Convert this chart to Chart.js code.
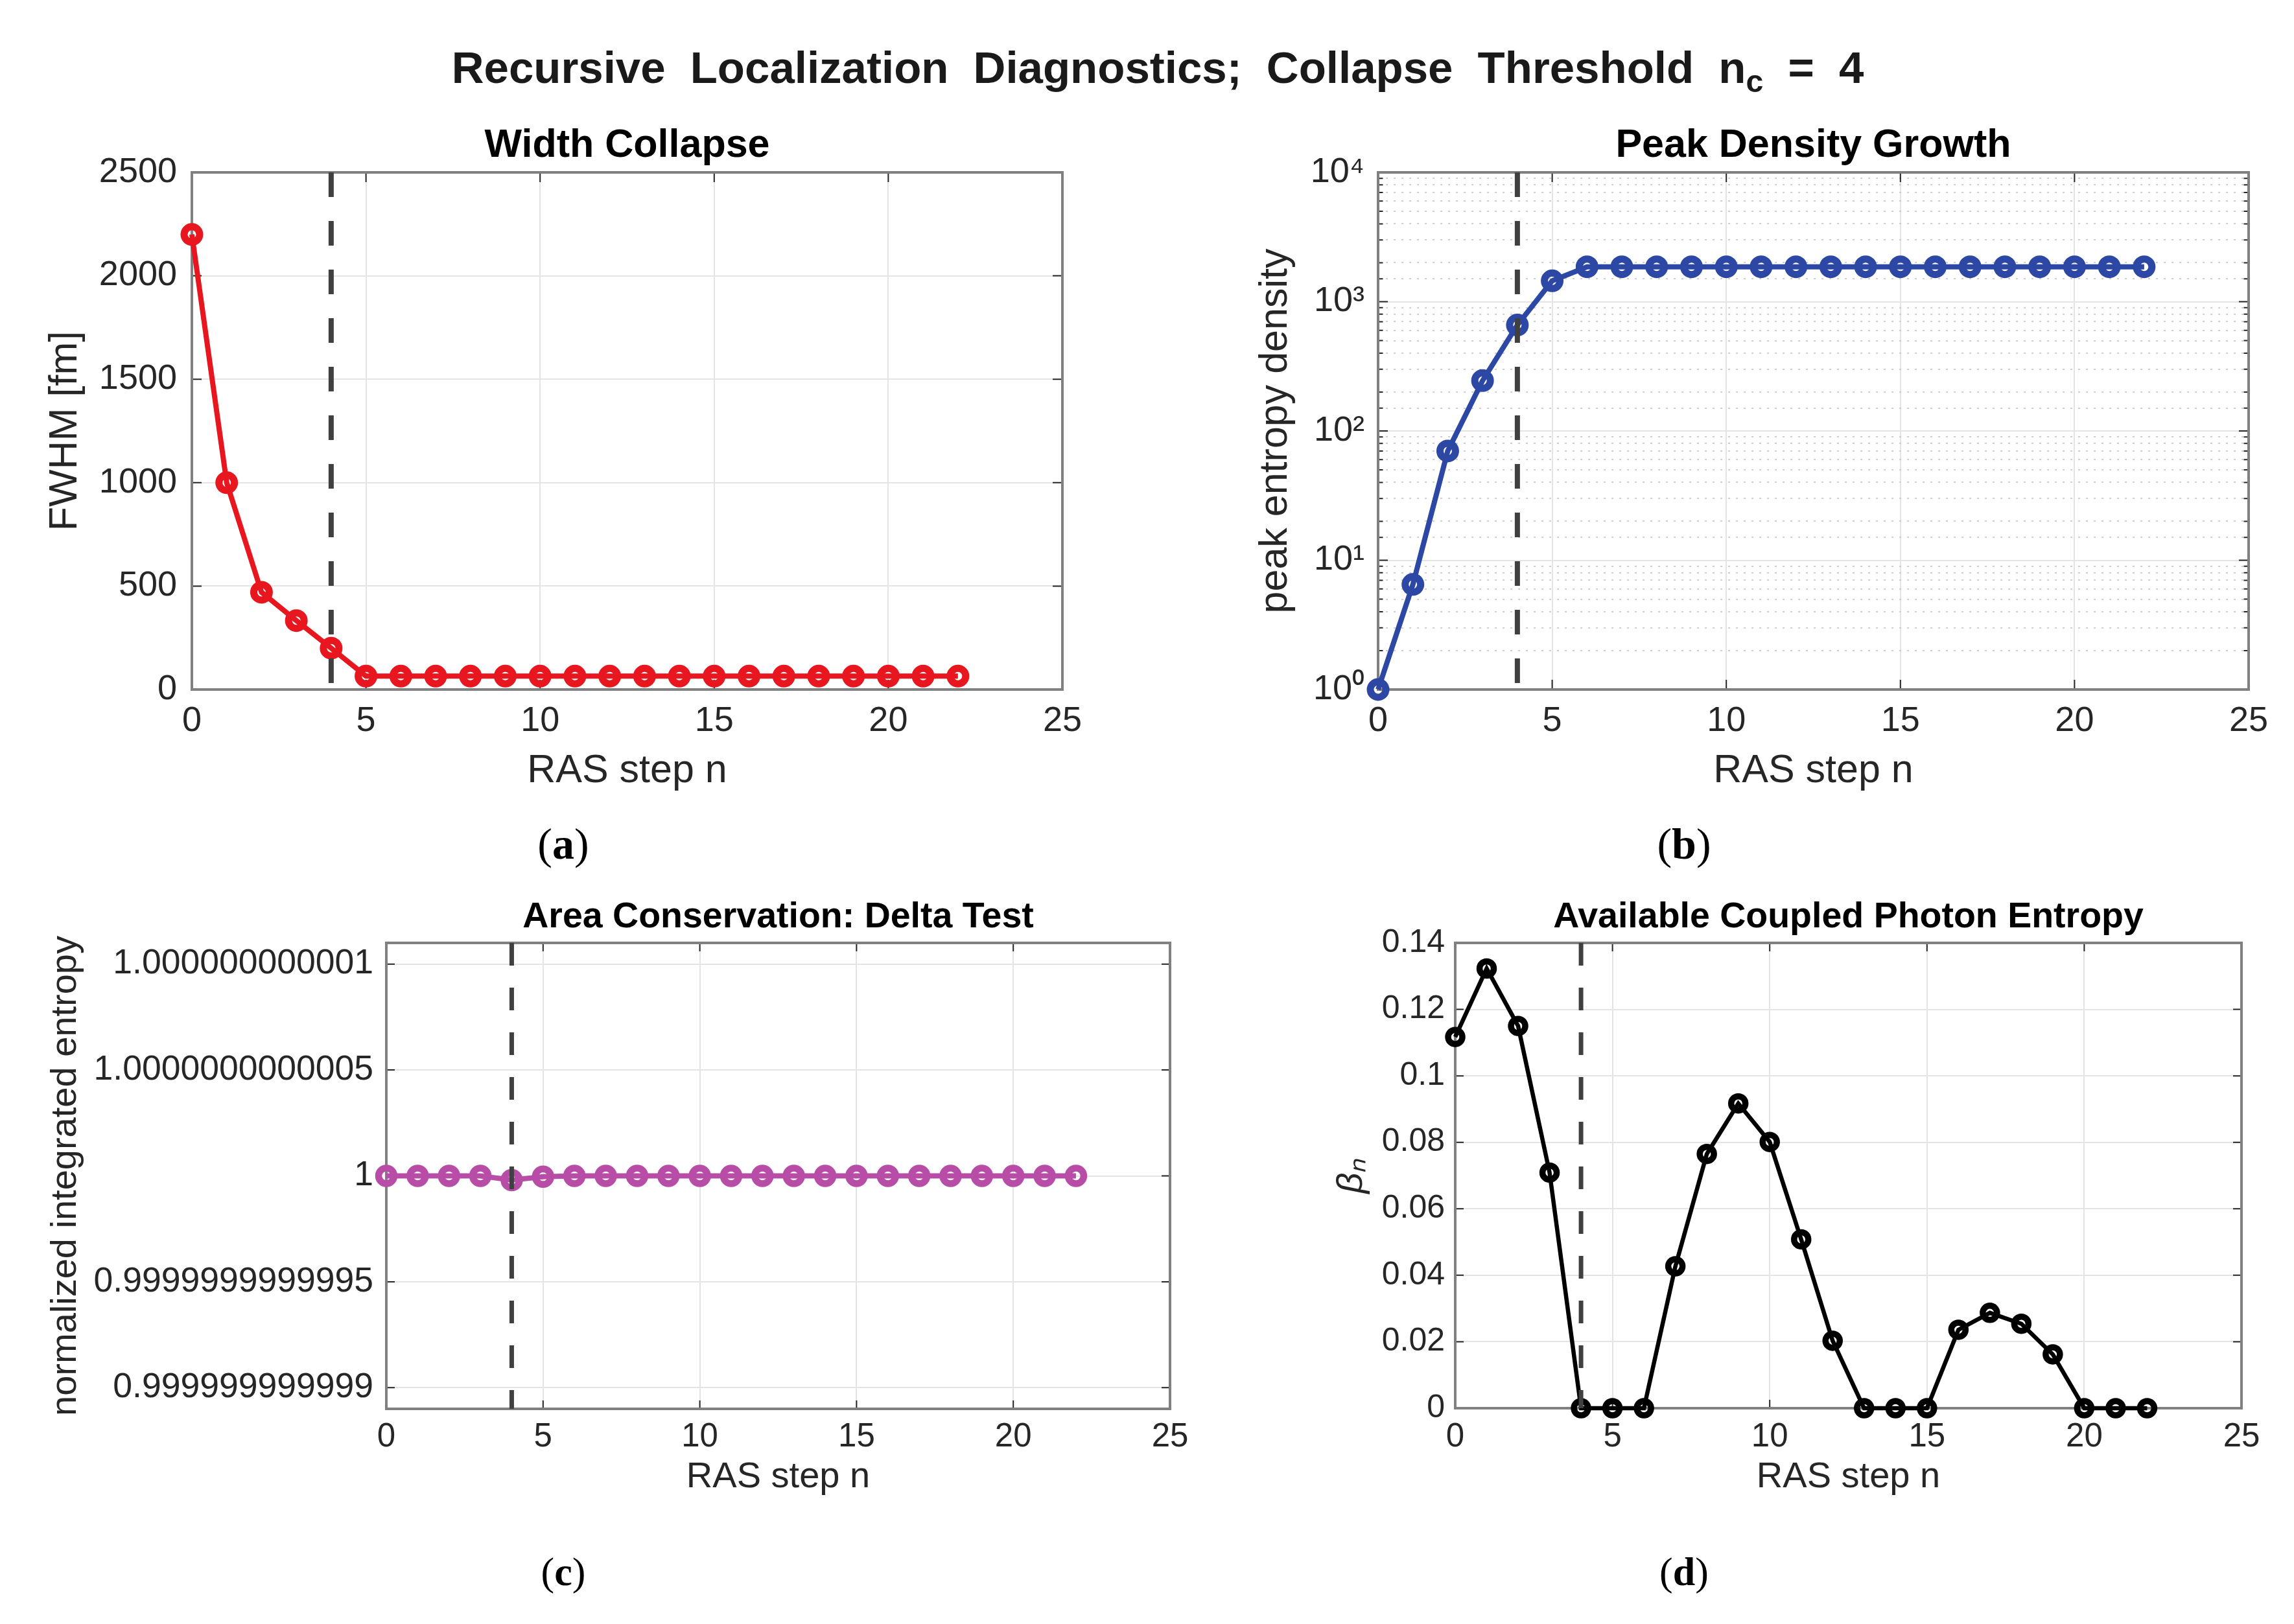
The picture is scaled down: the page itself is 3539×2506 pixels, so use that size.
<!DOCTYPE html>
<html>
<head>
<meta charset="utf-8">
<script src="https://cdn.jsdelivr.net/npm/chart.js@4.4.1/dist/chart.umd.min.js"></script>
<style>
html,body{margin:0;padding:0;background:#fff;}
body{width:3539px;height:2506px;position:relative;overflow:hidden;font-family:"Liberation Sans",Arial,Helvetica,sans-serif;}
canvas{position:absolute;}
#suptitle{position:absolute;top:66px;left:1786px;transform:translateX(-50%);white-space:nowrap;font-weight:bold;font-size:69px;line-height:77px;color:#1a1a1a;word-spacing:19px;}
#suptitle sub{font-size:0.7em;line-height:0;vertical-align:-0.3em;}
.lab{position:absolute;font-family:"Liberation Serif","Times New Roman",serif;white-space:nowrap;transform:translateX(-50%);color:#000;line-height:1.107;}
</style>
</head>
<body>
<div id="suptitle">Recursive Localization Diagnostics; Collapse Threshold n<sub>c</sub> = 4</div>
<div class="lab" style="left:869px;top:1265px;font-size:68px;">(<b>a</b>)</div>
<div class="lab" style="left:2598px;top:1265px;font-size:68px;">(<b>b</b>)</div>
<div class="lab" style="left:869px;top:2391px;font-size:62px;">(<b>c</b>)</div>
<div class="lab" style="left:2598px;top:2391px;font-size:62px;">(<b>d</b>)</div>

<script>
// ---------------- data ----------------
const steps = [0,1,2,3,4,5,6,7,8,9,10,11,12,13,14,15,16,17,18,19,20,21,22];
const collapseThreshold = 4;

const fwhm = [2200,1000,470,333,200,65,65,65,65,65,65,65,65,65,65,65,65,65,65,65,65,65,65];
const peakDensity = [1,6.5,70,245,660,1450,1860,1860,1860,1860,1860,1860,1860,1860,1860,1860,1860,1860,1860,1860,1860,1860,1860];
const areaNorm = [1,1,1,1,0.99999999999998,0.999999999999996,1,1,1,1,1,1,1,1,1,1,1,1,1,1,1,1,1];
const beta = [0.1117,0.1323,0.1150,0.0709,0,0,0,0.0427,0.0765,0.0917,0.0801,0.0508,0.0203,0,0,0,0.0236,0.0287,0.0254,0.0162,0,0,0];

const xTicks = [0,5,10,15,20,25];
const fwhmTicks = [0,500,1000,1500,2000,2500];
const peakDecades = [1,10,100,1000,10000];
const peakTickLabels = ['10\u2070','10\u00B9','10\u00B2','10\u00B3','10\u2074'];
const areaTicks = [0.999999999999,0.9999999999995,1,1.0000000000005,1.000000000001];
const areaTickLabels = ['0.999999999999','0.9999999999995','1','1.0000000000005','1.000000000001'];
const betaTicks = [0,0.02,0.04,0.06,0.08,0.1,0.12,0.14];
const betaTickLabels = ['0','0.02','0.04','0.06','0.08','0.1','0.12','0.14'];

const xRange = [0,25];
const fwhmRange = [0,2500];
const peakRange = [1,10000];
const areaRange = [0.9999999999989,1.0000000000011];
const betaRange = [0,0.14];

// ---------------- style ----------------
const FONT = '"Liberation Sans", Arial, Helvetica, sans-serif';
Chart.defaults.font.family = FONT;
Chart.defaults.color = '#262626';
const GRID = '#e4e4e4';
const MINOR_GRID = '#cfcfcf';
const RED = '#e8161e', BLUE = '#2d47a5', MAGENTA = '#b84da8', BLACK = '#000000';
const DASH_COLOR = '#404040';

const matlabAxes = {
  id: 'matlabAxes',
  beforeDatasetsDraw(chart, args, o) {
    const {ctx, chartArea: a} = chart;
    const xs = chart.scales.x, ys = chart.scales.y;
    ctx.save();
    ctx.strokeStyle = o.tickColor; ctx.lineWidth = o.tickWidth;
    ctx.beginPath();
    xs.ticks.forEach(t => {
      const p = xs.getPixelForValue(t.value);
      ctx.moveTo(p, a.bottom); ctx.lineTo(p, a.bottom - o.len);
      ctx.moveTo(p, a.top); ctx.lineTo(p, a.top + o.len);
    });
    ys.ticks.forEach(t => {
      const p = ys.getPixelForValue(t.value);
      let L = o.len;
      if (o.log) {
        const e = Math.log10(t.value);
        if (Math.abs(e - Math.round(e)) > 1e-9) L = o.minorLen;
      }
      ctx.moveTo(a.left, p); ctx.lineTo(a.left + L, p);
      ctx.moveTo(a.right, p); ctx.lineTo(a.right - L, p);
    });
    ctx.stroke();
    ctx.strokeStyle = o.boxColor; ctx.lineWidth = o.boxWidth;
    ctx.strokeRect(a.left, a.top, a.right - a.left, a.bottom - a.top);
    ctx.restore();
  }
};

function threshold(range, width, dash) {
  return {
    data: [{x: collapseThreshold, y: range[1]}, {x: collapseThreshold, y: range[0]}],
    borderColor: DASH_COLOR, borderWidth: width, borderDash: dash,
    pointRadius: 0, tension: 0, fill: false, clip: false
  };
}
function series(values, color, lw, r, pbw) {
  return {
    data: steps.map((n, i) => ({x: n, y: values[i]})),
    borderColor: color, borderWidth: lw, tension: 0, fill: false, clip: false,
    pointRadius: r, pointBorderWidth: pbw, pointBorderColor: color,
    pointBackgroundColor: 'rgba(0,0,0,0)', pointStyle: 'circle'
  };
}

function build(g, datasets, yExtra, extraScales) {
  const cv = document.createElement('canvas');
  cv.width = g.w; cv.height = g.h;
  cv.style.left = g.x + 'px'; cv.style.top = g.y + 'px';
  cv.style.width = g.w + 'px'; cv.style.height = g.h + 'px';
  document.body.appendChild(cv);
  const K = 0.3465;
  const lhT = g.titleSize * 1.2, lhL = g.labelSize * 1.2, lhK = g.tickSize * 1.2;
  const titleMid = g.titleBase - K * g.titleSize;
  const padTop = titleMid - lhT / 2 - g.y;
  const titlePadBottom = g.t - g.y - padTop - lhT;
  const xTitleMid = g.xLabelBase - K * g.labelSize;
  const xTitlePadBottom = g.y + g.h - xTitleMid - lhL / 2;
  const xTickMid = g.xTickBase - K * g.tickSize;
  const xTickPad = xTickMid - g.b - lhK / 2;
  const yTitlePadTop = g.yLabelX - g.x - lhL / 2;
  const yTickSize = g.yTickSize || g.tickSize;

  const yScale = Object.assign({
    position: 'left',
    grid: {color: GRID, lineWidth: 2, drawTicks: false},
    border: {display: false},
    title: {display: true, text: g.yLabel, color: '#262626',
            font: {size: g.labelSize, style: g.yLabelStyle || 'normal'},
            padding: {top: yTitlePadTop, bottom: 0}},
    afterFit: s => { s.width = g.l - g.x; }
  }, yExtra);
  yScale.ticks = Object.assign({autoSkip: false, font: {size: yTickSize}, padding: g.yTickPad, color: '#262626'}, yExtra.ticks || {});

  const scales = {
    x: {
      type: 'linear', min: xRange[0], max: xRange[1],
      afterBuildTicks: s => { s.ticks = xTicks.map(v => ({value: v})); },
      ticks: {autoSkip: false, maxRotation: 0, minRotation: 0, font: {size: g.tickSize}, padding: xTickPad, color: '#262626',
              callback: v => String(v)},
      grid: {color: GRID, lineWidth: 2, drawTicks: false},
      border: {display: false},
      title: {display: true, text: 'RAS step n', color: '#262626', font: {size: g.labelSize},
              padding: {top: 0, bottom: xTitlePadBottom}},
      afterFit: s => { s.height = g.y + g.h - g.b; }
    },
    y: yScale
  };
  Object.assign(scales, extraScales || {});

  return new Chart(cv, {
    type: 'line',
    data: {datasets},
    options: {
      responsive: false, animation: false, devicePixelRatio: 1, events: [],
      layout: {padding: {top: padTop, right: g.x + g.w - g.r, left: 0, bottom: 0}},
      plugins: {
        legend: {display: false}, tooltip: {enabled: false},
        title: {display: true, fullSize: false, text: g.title, color: '#000',
                font: {size: g.titleSize, weight: 'bold', lineHeight: 1.2},
                padding: {top: 0, bottom: titlePadBottom}},
        matlabAxes: {tickColor: '#262626', tickWidth: 2, len: g.tickLen, minorLen: g.tickLen / 2,
                     boxColor: '#808080', boxWidth: 4, log: !!g.log}
      },
      scales
    },
    plugins: [matlabAxes]
  });
}

// (a) Width Collapse
build({x:0, y:150, w:1750, h:1100, l:296, t:266, r:1639, b:1064,
       title:'Width Collapse', titleSize:61, titleBase:246, labelSize:61, tickSize:54,
       xTickBase:1132, xLabelBase:1211, yLabelX:101, yTickPad:23, tickLen:15, yLabel:'FWHM [fm]'},
  [threshold(fwhmRange, 8, [38, 37]), series(fwhm, RED, 8, 12, 11)],
  {type:'linear', min: fwhmRange[0], max: fwhmRange[1],
   afterBuildTicks: s => { s.ticks = fwhmTicks.map(v => ({value: v})); },
   ticks: {callback: v => String(v)}});

// (b) Peak Density Growth
const isDecade = v => { const e = Math.log10(v); return Math.abs(e - Math.round(e)) < 1e-9; };
build({x:1760, y:150, w:1779, h:1100, l:2126, t:266, r:3469, b:1064,
       title:'Peak Density Growth', titleSize:61, titleBase:246, labelSize:61, tickSize:54,
       xTickBase:1132, xLabelBase:1211, yLabelX:1968, yTickPad:21, tickLen:15, log:true, yLabel:'peak entropy density'},
  [threshold(peakRange, 8, [38, 37]), series(peakDensity, BLUE, 8, 12, 11)],
  {type:'logarithmic', min: peakRange[0], max: peakRange[1],
   grid: {color: c => isDecade(c.tick.value) ? GRID : 'rgba(0,0,0,0)', lineWidth: 2, drawTicks: false},
   ticks: {callback: v => { const i = peakDecades.indexOf(v); return i >= 0 ? peakTickLabels[i] : ''; }}},
  {yMinor: {type:'logarithmic', position:'right', min: peakRange[0], max: peakRange[1],
            ticks: {display: false, autoSkip: false},
            grid: {color: c => isDecade(c.tick.value) ? 'rgba(0,0,0,0)' : MINOR_GRID, lineWidth: 2, drawTicks: false},
            border: {display: false, dash: [3, 9]},
            afterFit: s => { s.width = 0; }}});

// (c) Area Conservation
build({x:0, y:1350, w:1850, h:1000, l:596, t:1455, r:1805, b:2174,
       title:'Area Conservation: Delta Test', titleSize:55.5, titleBase:1435, labelSize:56, tickSize:51, yTickSize:53.5,
       xTickBase:2236, xLabelBase:2299, yLabelX:102, yTickPad:20, tickLen:13, yLabel:'normalized integrated entropy'},
  [threshold(areaRange, 7, [35, 34]), series(areaNorm, MAGENTA, 8, 12, 10.5)],
  {type:'linear', min: areaRange[0], max: areaRange[1], bounds: 'data',
   afterBuildTicks: s => { s.ticks = areaTicks.map(v => ({value: v})); },
   ticks: {callback: v => { const i = areaTicks.indexOf(v); return i >= 0 ? areaTickLabels[i] : ''; }}});

// (d) Available Coupled Photon Entropy
build({x:1860, y:1350, w:1679, h:1000, l:2245, t:1455, r:3458, b:2173,
       title:'Available Coupled Photon Entropy', titleSize:55.5, titleBase:1435, labelSize:56, tickSize:51, yTickSize:50,
       xTickBase:2236, xLabelBase:2299, yLabelX:2085, yTickPad:16, tickLen:13, yLabel:'\u03B2\u2099', yLabelStyle:'italic'},
  [threshold(betaRange, 7, [35, 34]), series(beta, BLACK, 6.5, 11, 9.5)],
  {type:'linear', min: betaRange[0], max: betaRange[1],
   afterBuildTicks: s => { s.ticks = betaTicks.map(v => ({value: v})); },
   ticks: {callback: v => { const i = betaTicks.indexOf(v); return i >= 0 ? betaTickLabels[i] : ''; }}});
</script>
</body>
</html>
